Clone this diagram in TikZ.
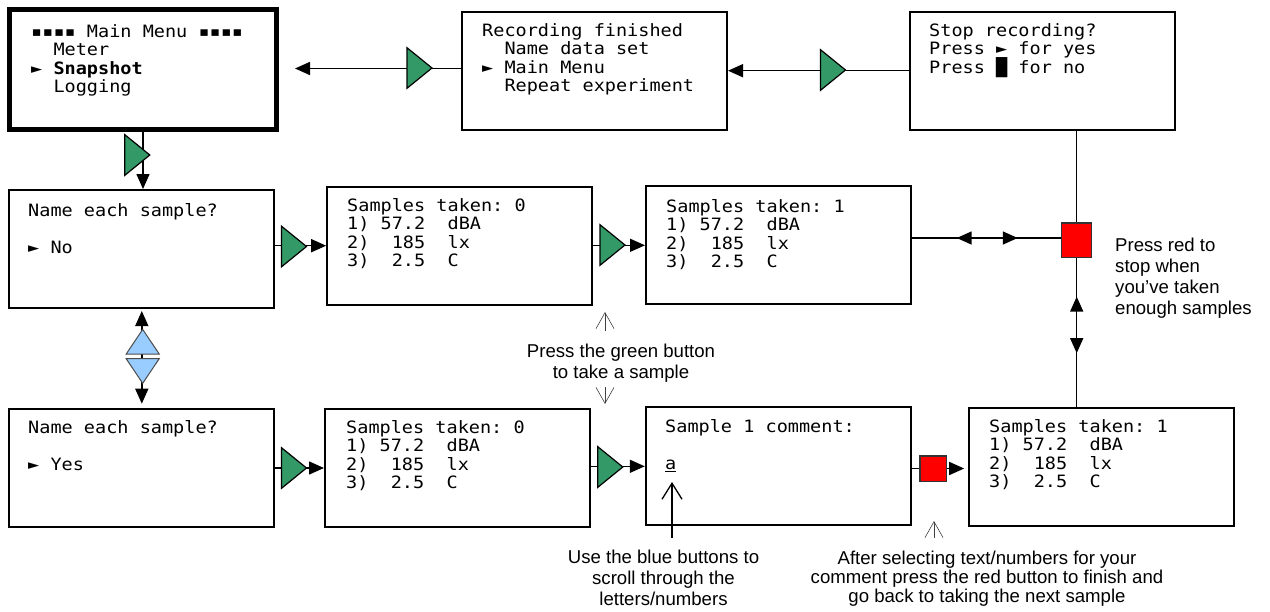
\documentclass[tikz,border=0pt]{standalone}
\usepackage{fontspec}
\setmainfont{Liberation Sans}
\newfontfamily\screenfont[FakeStretch=1.09]{DejaVu Sans Mono}
\usetikzlibrary{arrows.meta,decorations.markings}
\definecolor{btngreen}{RGB}{51,153,102}
\definecolor{btnblue}{RGB}{153,204,255}
\definecolor{btnred}{RGB}{255,0,0}
% multi-line text blocks whose baseline is the first line
\newcommand\screenlines[1]{\begin{tabular}[t]{@{}l@{}}#1\end{tabular}}
\newcommand\notelines[1]{\begin{tabular}[t]{@{}c@{}}#1\end{tabular}}
\tikzset{
  screen/.style={draw, line width=2pt, minimum width=265pt, minimum height=118pt, inner sep=0pt},
  mainscreen/.style={screen, line width=5pt, minimum width=267.6pt, minimum height=119.7pt},
  scr/.style={anchor=base west, inner sep=0pt, font=\screenfont\fontsize{17}{18.6}\selectfont},
  note/.style={inner sep=0pt, font=\fontsize{18.6}{21}\selectfont},
  conn/.style={line width=1.5pt},
  redbtn/.style={draw=black!80, fill=btnred, line width=1.5pt, inner sep=0pt},
  notearrow/.style={draw=black!75, line width=0.6pt, -{Straight Barb[length=16pt,width=18pt]}},
  bluenote/.style={draw=black, line width=1.3pt, -{Straight Barb[length=16pt,width=20pt]}},
  midpair/.style 2 args={postaction={decorate}, decoration={markings,
      mark=at position #1 with {\arrowreversed{>}},
      mark=at position #2 with {\arrow{>}}}},
  gbtn/.pic={\draw[fill=btngreen, line width=1.2pt, line join=miter]
      (-12.5,-20.3) -- (12.5,0) -- (-12.5,20.3) -- cycle;},
  bup/.pic={\draw[fill=btnblue, draw=black!70, line width=1pt]
      (0,-12.3) -- (16.5,12.3) -- (-16.5,12.3) -- cycle;},
  bdown/.pic={\draw[fill=btnblue, draw=black!70, line width=1pt]
      (0,12.3) -- (16.5,-12.3) -- (-16.5,-12.3) -- cycle;},
}
\begin{document}
\begin{tikzpicture}[x=1pt, y=-1pt, >={Triangle[length=15pt,width=13pt]}]
\useasboundingbox (0,0) rectangle (1270,611);

% display screens
\node[mainscreen] (mm) at (143,69.7) {};
\node[screen] (rf) at (594.5,71) {};
\node[screen] (stop) at (1042.5,70.7) {};
\node[screen] (nameno) at (141.8,249) {};
\node[screen] (s0a) at (459.7,245.7) {};
\node[screen] (s1a) at (778.5,245.3) {};
\node[screen] (nameyes) at (141.8,467.7) {};
\node[screen] (s0b) at (457.5,468) {};
\node[screen] (cm) at (778.3,466.3) {};
\node[screen] (s1b) at (1101.7,466.7) {};

% screen contents
\node[scr] (mmtext) at (31,37) {\screenlines{▪▪▪▪~Main~Menu~▪▪▪▪\\~~Meter\\►~\textbf{Snapshot}\\~~Logging}};
\node[scr] (rftext) at (482,36) {\screenlines{Recording~finished\\~~Name~data~set\\►~Main~Menu\\~~Repeat~experiment}};
\node[scr] (stoptext) at (929,36) {\screenlines{Stop~recording?\\Press~►~for~yes\\Press~\smash{█}~for~no}};
\node[scr] (notext) at (28,216) {\screenlines{Name~each~sample?\\ \\►~No}};
\node[scr] (s0atext) at (347,211) {\screenlines{Samples~taken:~0\\1)~57.2~~dBA\\2)~~185~~lx\\3)~~2.5~~C}};
\node[scr] (s1atext) at (666,212) {\screenlines{Samples~taken:~1\\1)~57.2~~dBA\\2)~~185~~lx\\3)~~2.5~~C}};
\node[scr] (yestext) at (28,433) {\screenlines{Name~each~sample?\\ \\►~Yes}};
\node[scr] (s0btext) at (346,433) {\screenlines{Samples~taken:~0\\1)~57.2~~dBA\\2)~~185~~lx\\3)~~2.5~~C}};
\node[scr] (cmtext) at (665,432) {\screenlines{Sample~1~comment:\\ \\\underline{a}}};
\node[scr] (s1btext) at (989,432) {\screenlines{Samples~taken:~1\\1)~57.2~~dBA\\2)~~185~~lx\\3)~~2.5~~C}};

% red stop buttons
\node[redbtn, minimum width=30pt, minimum height=34.5pt] (rb) at (1076.7,240) {};

% top row
\draw[conn,->,shorten >=15.7pt] ([yshift=2.5pt]rf.west) -- ([yshift=2.5pt]rf.west -| mm.east);
\pic (g1) at (419.5,68) {gbtn};
\draw[conn,->] (stop.west) -- (stop.west -| rf.east);
\pic (g2) at (833,70) {gbtn};

% main menu down to the first question
\draw[conn,->] (mm.south) -- (mm.south |- nameno.north);
\pic (g3) at (137.3,155) {gbtn};

% middle row
\draw[conn,->] (s0a.west -| nameno.east) -- (s0a.west);
\pic (g4) at (294,246.5) {gbtn};
\draw[conn,->] (s1a.west -| s0a.east) -- (s1a.west);
\pic (g5) at (612.5,245) {gbtn};
\draw[conn, midpair={0.30}{0.71}] ([yshift=2pt]rb.west -| s1a.east) -- ([yshift=2pt]rb.west);
\draw[conn] (rb.north) -- (rb.north |- stop.south);
\draw[conn, midpair={0.26}{0.64}] (rb.south) -- (rb.south |- s1b.north);

% blue scroll buttons between the two questions
\draw[conn,<->,shorten <=2pt,shorten >=4pt] (nameno.south) -- (nameno.south |- nameyes.north);
\pic (bu) at (142.7,341.7) {bup};
\pic (bd) at (142.7,371) {bdown};

% bottom row
\draw[conn,->] (s0b.west -| nameyes.east) -- (s0b.west);
\pic (g6) at (294,468) {gbtn};
\draw[conn,->] (cm.west -| s0b.east) -- (cm.west);
\pic (g7) at (610.3,467) {gbtn};
\node[redbtn, minimum width=26.5pt, minimum height=25.5pt] (rs) at (933,468.5) {};
\draw[conn] (rs.west -| cm.east) -- (rs.west);
\draw[conn,->,shorten >=4pt] (rs.east) -- (rs.east -| s1b.west);

% explanatory notes
\node[note, anchor=base] (tgreen) at (621,357) {\notelines{Press the green button\\to take a sample}};
\node[note, anchor=base] (tblue) at (663.5,563.5) {\notelines{Use the blue buttons to\\scroll through the\\letters/numbers}};
\node[note, anchor=base, font=\fontsize{18.6}{19}\selectfont] (tred) at (987,564) {\notelines{After selecting text/numbers for your\\comment press the red button to finish and\\go back to taking the next sample}};
\node[note, anchor=base west, font=\fontsize{18.6}{21.3}\selectfont] (tstop) at (1115,251) {\screenlines{Press red to\\stop when\\you’ve taken\\enough samples}};

\coordinate (gupa) at (605,331);
\coordinate (gupb) at (605,312);
\coordinate (gdna) at (605,387);
\coordinate (gdnb) at (605,404);
\coordinate (bla) at (672,538);
\coordinate (blb) at (672,482);
\coordinate (rda) at (934,538);
\coordinate (rdb) at (934,521);
\draw[notearrow] (gupa) -- (gupb);
\draw[notearrow] (gdna) -- (gdnb);
\draw[bluenote] (bla) -- (blb);
\draw[notearrow] (rda) -- (rdb);
\end{tikzpicture}
\end{document}
